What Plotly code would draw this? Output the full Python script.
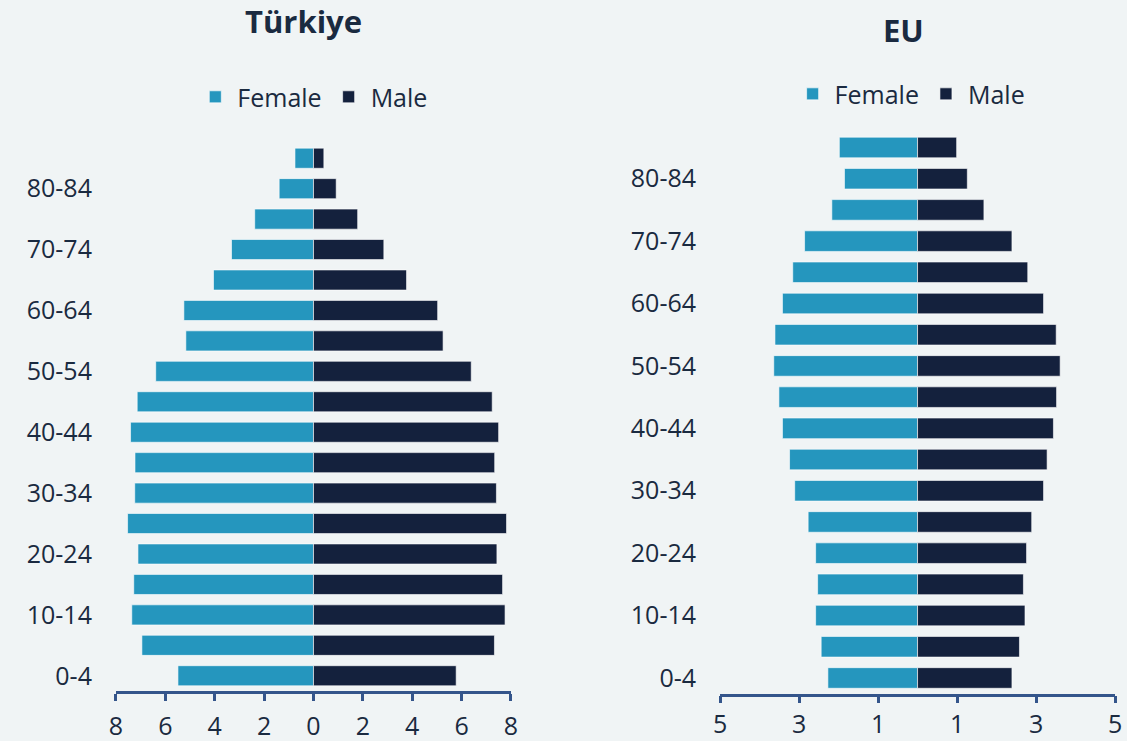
import plotly.graph_objects as go
from plotly.subplots import make_subplots

ages = ["0-4", "5-9", "10-14", "15-19", "20-24", "25-29", "30-34", "35-39", "40-44",
        "45-49", "50-54", "55-59", "60-64", "65-69", "70-74", "75-79", "80-84", "85+"]
shown_ages = ["0-4", "10-14", "20-24", "30-34", "40-44", "50-54", "60-64", "70-74", "80-84"]

# percentage of population, bottom (0-4) to top (85+)
tr_female = [5.49, 6.95, 7.36, 7.28, 7.11, 7.53, 7.24, 7.23, 7.41,
             7.14, 6.39, 5.17, 5.25, 4.05, 3.32, 2.38, 1.39, 0.75]
tr_male = [5.78, 7.33, 7.76, 7.66, 7.43, 7.82, 7.41, 7.34, 7.50,
           7.24, 6.39, 5.25, 5.03, 3.77, 2.85, 1.79, 0.92, 0.42]
eu_female = [2.27, 2.44, 2.58, 2.53, 2.58, 2.77, 3.11, 3.24, 3.42,
             3.51, 3.64, 3.61, 3.42, 3.16, 2.86, 2.17, 1.85, 1.98]
eu_male = [2.39, 2.58, 2.72, 2.68, 2.76, 2.89, 3.19, 3.28, 3.44,
           3.52, 3.61, 3.51, 3.19, 2.79, 2.39, 1.68, 1.26, 0.99]

tr_ticks = [-8, -6, -4, -2, 0, 2, 4, 6, 8]
eu_ticks = [-5, -3, -1, 1, 3, 5]

female_col = "#2596be"
male_col = "#14213d"
text_col = "#1a2a40"
bg = "#f0f4f5"
font = "Open Sans"

fig = make_subplots(rows=1, cols=2)

def add_pair(female, male, col, legend):
    fig.add_trace(go.Bar(y=ages, x=[-v for v in female], orientation="h", name="Female",
                         marker=dict(color=female_col, line=dict(color="rgba(255,255,255,0.6)", width=1)),
                         legend=legend), row=1, col=col)
    fig.add_trace(go.Bar(y=ages, x=male, orientation="h", name="Male",
                         marker=dict(color=male_col, line=dict(color="rgba(255,255,255,0.6)", width=1)),
                         legend=legend), row=1, col=col)

add_pair(tr_female, tr_male, 1, "legend")
add_pair(eu_female, eu_male, 2, "legend2")

xax = dict(showline=True, linecolor="#34558b", linewidth=2.5, ticks="outside", ticklen=7,
           tickwidth=2.5, tickcolor="#34558b", showgrid=False, zeroline=False, automargin=False,
           tickfont=dict(size=25, color=text_col, family=font))
yax = dict(showgrid=False, zeroline=False, showline=False, ticks="", automargin=False,
           categoryorder="array", categoryarray=ages, tickvals=shown_ages,
           tickfont=dict(size=25, color=text_col, family=font), ticklabelstandoff=23)

fig.update_layout(
    xaxis=dict(xax, domain=[0.1029, 0.4534], range=[-8, 8], tickvals=tr_ticks,
               ticktext=[str(abs(t)) for t in tr_ticks], ticklabelstandoff=4),
    xaxis2=dict(xax, domain=[0.6389, 0.9894], range=[-5, 5], tickvals=eu_ticks,
                ticktext=[str(abs(t)) for t in eu_ticks], ticklabelstandoff=0),
    yaxis=dict(yax, domain=[0.0675, 0.807], range=[-0.5, 17.5]),
    yaxis2=dict(yax, domain=[0.064, 0.822], range=[-0.5, 17.5]),
    barmode="relative",
    bargap=0.34,
    width=1127, height=741,
    margin=dict(l=0, r=0, t=0, b=0),
    paper_bgcolor=bg, plot_bgcolor=bg,
    font=dict(family=font, color=text_col),
    legend=dict(orientation="h", x=0.278, y=0.869, xanchor="center", yanchor="middle",
                font=dict(size=25, color=text_col, family=font), bgcolor="rgba(0,0,0,0)",
                itemwidth=34),
    legend2=dict(orientation="h", x=0.808, y=0.873, xanchor="center", yanchor="middle",
                 font=dict(size=25, color=text_col, family=font), bgcolor="rgba(0,0,0,0)",
                 itemwidth=34),
    annotations=[
        dict(text="<b>Türkiye</b>", x=0.269, y=0.972, xref="paper", yref="paper",
             xanchor="center", yanchor="middle", showarrow=False,
             font=dict(size=31, color=text_col, family=font)),
        dict(text="<b>EU</b>", x=0.802, y=0.960, xref="paper", yref="paper",
             xanchor="center", yanchor="middle", showarrow=False,
             font=dict(size=31, color=text_col, family=font)),
    ],
)

fig.write_html("out.html", config={"displayModeBar": False},
               post_script="document.body.style.margin='0';")
